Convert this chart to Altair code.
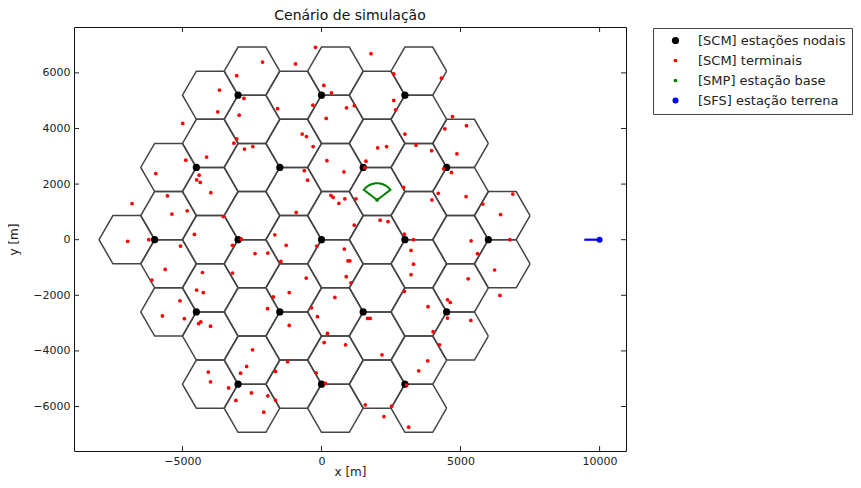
import math
import altair as alt
import pandas as pd

# ---------------- data ----------------
# SCM nodal stations (m)
node_x = [-6000, -3000, 0, 3000, 6000,
          -4500, -1500, 1500, 4500,
          -4500, -1500, 1500, 4500,
          -3000, 0, 3000,
          -3000, 0, 3000]
node_y = [0, 0, 0, 0, 0,
          2598, 2598, 2598, 2598,
          -2598, -2598, -2598, -2598,
          5196, 5196, 5196,
          -5196, -5196, -5196]

# SCM terminals (m)
term_x = [-3050, -3670, -2790, -3730, -2960, -4990, -3050, -3150, -2770, -4130,
          -4880, -5960, -4400, -4490, -4360, -3980, -5540, -6810, -4830, -5380,
          -3530, -4570, -6210,
          -6970, -5070, -5620, -6100, -4280, -4490, -4250, -3200, -3200, -2880,
          -5090, -5720, -4930, -4420, -4340, -3990, -4070, -3990, -2690, -2910,
          -3340, -3080,
          -215, 1780, -2120, -935, 2600, 85, 360, 2600, -310, -1580,
          900, 1180, 2665, 170, -695, -540, 3000, -2470, -300, 2020,
          2340, 3400, 3960, 195, 1600, 1560, -620, 805, -500, 2950,
          340, 420, 625, 840, 1240, 3970, 4200, -910, 2110, 2390,
          1180, -1680, 2980, 3310,
          4315, 4710, 4435, 5215, 4870, 4390, 4675, 5200, 6880, 5800,
          6440, 5380, 6775,
          -1270, -170, -2390, -1930, 820, 950, 1020, -1460, 890, -550,
          1060, 3220, 3310, 3220, 2980, 3830, -1160, -1730, 480, -1940,
          -360, -145, 1660, 1750, -1160, 215, 95, 865, -2480, -1220,
          2175, 3820, 3495, -1655, -190, 145, 3060, -2520, -1930, -1655,
          -2075, 1575, 2520, 2245, 3135, 4015,
          5610, 6225, 5275, 6415, 4530, 4630, 4530, 5370, 4245]
term_y = [5900, 5380, 5080, 4600, 4480, 4180, 3630, 3470, 3260, 2970,
          2860, 2380, 2320, 2150, 2060, 1690, 1580, 1300, 1040, 920,
          830, 190, 0,
          -60, -230, -1070, -1450, -1180, -1810, -1900, -1200, -200, 20,
          -2200, -2740, -2840, -3020, -2960, -3110, -4760, -5110, -4560, -4800,
          -5330, -5780,
          6920, 6690, 6390, 6320, 5960, 5550, 5285, 5010, 4840, 4710,
          4745, 4820, 4670, 4360, 3800, 3710, 3800, 3350, 3350, 3305,
          3350, 3400, 3200, 2840, 2825, 2590, 2480, 2440, 2140, 1880,
          1590, 1520, 1310, 1470, 1470, 1430, 1670, 980, 700, 650,
          520, 175, 200, 0,
          5810, 4430, 3990, 4100, 3090, 2550, 2420, 1550, 1640, 1280,
          905, -40, 0,
          -200, -230, -500, -480, -335, -760, -760, -780, -1330, -1380,
          -1550, -385, -880, -1260, -1860, -2410, -1900, -2060, -2075, -2480,
          -2450, -2770, -2830, -2830, -3085, -3370, -3700, -3780, -3960, -4390,
          -4140, -4355, -4715, -4740, -4790, -5170, -5230, -5510, -5615, -5770,
          -6205, -5940, -5990, -6360, -6745, -3310,
          -505, -1090, -1405, -2005, -2160, -2255, -2820, -2905, -3780]

# SMP base station and its sector
base_x = [2000]
base_y = [1430]
sector_radius = 600
sector_half_angle = 53

# SFS earth station and its pointing segment
earth_x = [10000]
earth_y = [0]
earth_line_x = [9450, 10000]
earth_line_y = [0, 0]

hex_radius = 1000
x_ticks = [-5000, 0, 5000, 10000]
y_ticks = [-6000, -4000, -2000, 0, 2000, 4000, 6000]

cat_nodes = "[SCM] estações nodais"
cat_term = "[SCM] terminais"
cat_base = "[SMP] estação base"
cat_earth = "[SFS] estação terrena"
categories = [cat_nodes, cat_term, cat_base, cat_earth]
cat_colors = ["#000000", "#ff0000", "#008000", "#0000ff"]
cat_sizes = [52, 14, 14, 36]

# ---------------- derived tables ----------------
h = hex_radius * math.sqrt(3) / 2
offsets = [(-hex_radius, 0), (hex_radius / 2, h), (hex_radius / 2, -h)]
hex_rows = []
hid = 0
for nx, ny in zip(node_x, node_y):
    for ox, oy in offsets:
        cx, cy = nx + ox, ny + oy
        for k in range(7):
            a = math.radians(60 * k)
            hex_rows.append({"hex": hid, "k": k,
                             "x": cx + hex_radius * math.cos(a),
                             "y": cy + hex_radius * math.sin(a)})
        hid += 1
hex_df = pd.DataFrame(hex_rows)

fan_rows = [{"k": 0, "x": base_x[0], "y": base_y[0]}]
n_arc = 24
for i in range(n_arc + 1):
    ang = math.radians(90 + sector_half_angle - 2 * sector_half_angle * i / n_arc)
    fan_rows.append({"k": i + 1,
                     "x": base_x[0] + sector_radius * math.cos(ang),
                     "y": base_y[0] + sector_radius * math.sin(ang)})
fan_rows.append({"k": n_arc + 2, "x": base_x[0], "y": base_y[0]})
fan_df = pd.DataFrame(fan_rows)

earth_line_df = pd.DataFrame({"x": earth_line_x, "y": earth_line_y, "k": [0, 1]})

pts = pd.concat([
    pd.DataFrame({"x": node_x, "y": node_y, "tipo": cat_nodes}),
    pd.DataFrame({"x": term_x, "y": term_y, "tipo": cat_term}),
    pd.DataFrame({"x": base_x, "y": base_y, "tipo": cat_base}),
    pd.DataFrame({"x": earth_x, "y": earth_y, "tipo": cat_earth}),
], ignore_index=True)
pts["ord"] = range(len(pts))

# ---------------- encodings ----------------
W, H = 552, 424
xscale = alt.Scale(domain=[-8900, 10950], nice=False, zero=False)
yscale = alt.Scale(domain=[-7600, 7650], nice=False, zero=False)
xaxis = alt.Axis(values=x_ticks, title="x [m]", format="d", ticks=False, domain=False,
                 grid=False, labelPadding=4, titlePadding=0)
yaxis = alt.Axis(values=y_ticks, title="y [m]", format="d", ticks=False, domain=False,
                 grid=False, labelPadding=4, titlePadding=12)
X = alt.X("x:Q", scale=xscale, axis=xaxis)
Y = alt.Y("y:Q", scale=yscale, axis=yaxis)

hexes = alt.Chart(hex_df).mark_line(color="#454545", strokeWidth=1.5).encode(
    x=X, y=Y, detail="hex:N", order="k:O")

fan = alt.Chart(fan_df).mark_line(color="#008000", strokeWidth=2).encode(
    x=X, y=Y, order="k:O")

earth_line = alt.Chart(earth_line_df).mark_line(color="#0000ff", strokeWidth=2.2).encode(
    x=X, y=Y, order="k:O")

points = alt.Chart(pts).mark_circle(opacity=1, strokeWidth=0).encode(
    x=X, y=Y,
    color=alt.Color("tipo:N", scale=alt.Scale(domain=categories, range=cat_colors), title=None),
    size=alt.Size("tipo:N", scale=alt.Scale(type="ordinal", domain=categories, range=cat_sizes),
                  title=None),
    order="ord:Q",
)

xt = pd.DataFrame({"x": x_ticks})
yt = pd.DataFrame({"y": y_ticks})
tick_b = alt.Chart(xt).mark_rule(color="#222").encode(x=X, y=alt.value(H), y2=alt.value(H - 5))
tick_t = alt.Chart(xt).mark_rule(color="#222").encode(x=X, y=alt.value(0), y2=alt.value(5))
tick_l = alt.Chart(yt).mark_rule(color="#222").encode(y=Y, x=alt.value(0), x2=alt.value(5))
tick_r = alt.Chart(yt).mark_rule(color="#222").encode(y=Y, x=alt.value(W), x2=alt.value(W - 5))

chart = alt.layer(hexes, fan, earth_line, points, tick_b, tick_t, tick_l, tick_r).properties(
    width=W, height=H,
    title=alt.TitleParams("Cenário de simulação", fontSize=14, font="DejaVu Sans",
                          fontWeight="normal", color="#111", offset=4),
    autosize=alt.AutoSizeParams(type="none"),
    padding={"left": 66, "top": 19, "right": 227, "bottom": 29},
).configure_view(
    stroke="#111", strokeWidth=1
).configure_axis(
    labelFont="DejaVu Sans", labelFontSize=11, labelColor="#222",
    titleFont="DejaVu Sans", titleFontSize=12, titleFontWeight="normal", titleColor="#222",
    labelOverlap=False,
).configure_legend(
    orient="none", legendX=579, legendY=1,
    strokeColor="#444", fillColor="white", padding=6,
    symbolOffset=10, labelOffset=16, labelFont="DejaVu Sans", labelFontSize=13,
    labelColor="#222", rowPadding=6, symbolType="circle", symbolStrokeWidth=0,
    labelLimit=400,
)

chart.save("out.html", embed_options={"renderer": "svg", "actions": False})
